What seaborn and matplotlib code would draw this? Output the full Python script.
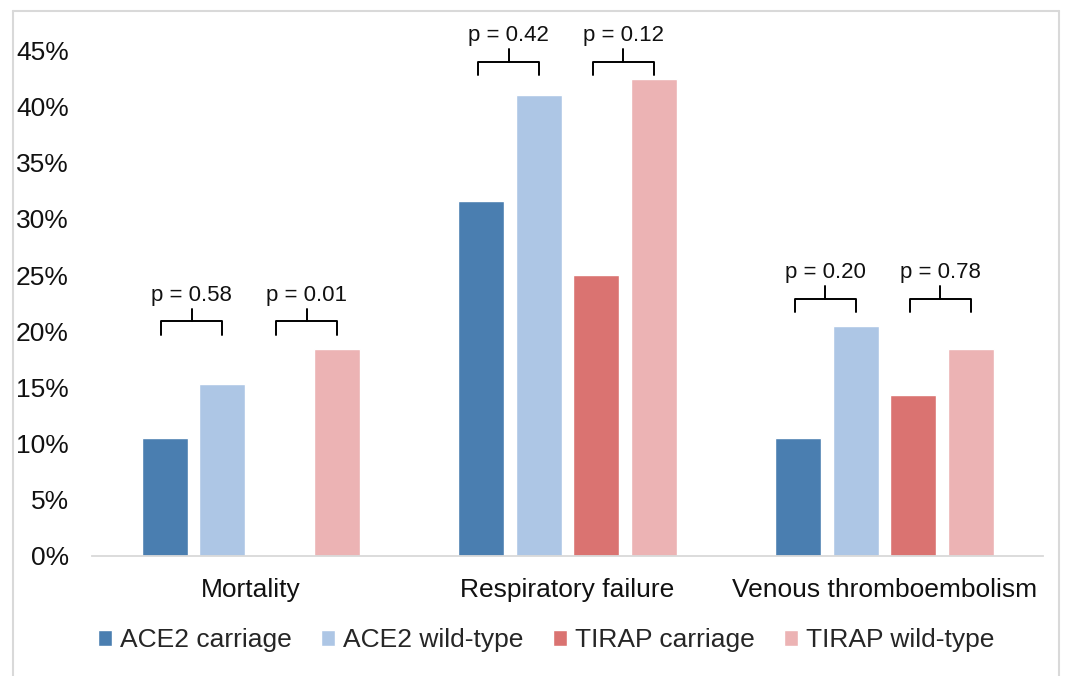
import pandas as pd
import numpy as np
import seaborn as sns
import matplotlib.pyplot as plt
from matplotlib.lines import Line2D
from matplotlib.ticker import PercentFormatter

outcomes = ["Mortality", "Respiratory failure", "Venous thromboembolism"]
groups = ["ACE2 carriage", "ACE2 wild-type", "TIRAP carriage", "TIRAP wild-type"]
ace2_carriage = [10.5, 31.6, 10.5]
ace2_wild = [15.3, 41.0, 20.5]
tirap_carriage = [0.0, 25.0, 14.3]
tirap_wild = [18.4, 42.5, 18.4]
p_ace2 = ["p = 0.58", "p = 0.42", "p = 0.20"]
p_tirap = ["p = 0.01", "p = 0.12", "p = 0.78"]
colors = ["#4A7EB0", "#ADC6E5", "#DA7371", "#ECB3B4"]

rows = []
for g, vals in zip(groups, [ace2_carriage, ace2_wild, tirap_carriage, tirap_wild]):
    for o, v in zip(outcomes, vals):
        rows.append({"outcome": o, "group": g, "value": v / 100})
df = pd.DataFrame(rows)

sns.set_style("white")
plt.rcParams['font.family'] = ['Liberation Sans', 'DejaVu Sans']

fig = plt.figure(figsize=(10.73, 6.76), dpi=100)
ax = fig.add_axes([0.086, 0.178, 0.886, 0.797])

W = 0.725
sns.barplot(data=df, x="outcome", y="value", hue="group", order=outcomes,
            hue_order=groups, palette=colors, width=W, gap=0.2, ax=ax,
            saturation=1, legend=True, errorbar=None)

ax.set_ylim(0, 0.48)
ax.set_xlim(-0.5, 2.5)
ax.set_yticks(np.arange(0, 0.46, 0.05))
ax.yaxis.set_major_formatter(PercentFormatter(1.0, decimals=0))
ax.set_xlabel("")
ax.set_ylabel("")
ax.tick_params(axis="both", length=0, labelsize=19, colors="#111111")
ax.tick_params(axis="x", pad=16)
ax.tick_params(axis="y", pad=17)
for s in ["top", "left", "right"]:
    ax.spines[s].set_visible(False)
ax.spines["bottom"].set_color("#D9D9D9")
ax.spines["bottom"].set_linewidth(1.3)

# significance brackets
step = W / 4
def bracket(x1, x2, y, label):
    h = 0.012
    ax.plot([x1, x1, x2, x2], [y - h, y, y, y - h], color="black", lw=1.4,
            clip_on=False)
    xm = (x1 + x2) / 2
    ax.plot([xm, xm], [y, y + 0.011], color="black", lw=1.4, clip_on=False)
    ax.text(xm, y + 0.023, label, ha="center", va="center", fontsize=16,
            color="#111111")

levels = [0.209, 0.44, 0.229]
for i in range(3):
    c = [i + (j - 1.5) * step for j in range(4)]
    bracket(c[0] - 0.01, c[1], levels[i], p_ace2[i])
    bracket(c[2] - 0.01, c[3], levels[i], p_tirap[i])

handles, labels = ax.get_legend_handles_labels()
ax.get_legend().remove()
fig.legend(handles, labels, loc="center", bbox_to_anchor=(0.509, 0.053),
           ncol=4, frameon=False, fontsize=19, handlelength=0.55,
           handleheight=0.55, handletextpad=0.3, columnspacing=1.1)

# outer frame
fc = "#D9D9D9"
x0, x1, yt = 12.5 / 1073, 1058.5 / 1073, 1 - 11 / 676
for xs, ys in [([x0, x0], [0, yt]), ([x0, x1], [yt, yt]), ([x1, x1], [yt, 0])]:
    fig.add_artist(Line2D(xs, ys, color=fc, lw=1.5, transform=fig.transFigure))

fig.savefig("out.png", dpi=100)
